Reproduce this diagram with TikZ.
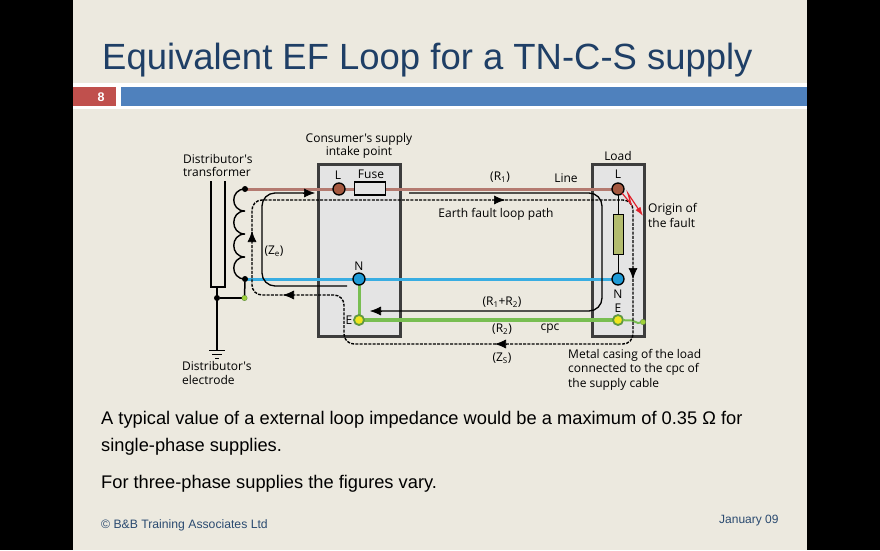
\documentclass[tikz,border=0pt]{standalone}
\usepackage{fontspec}
\setmainfont{Liberation Sans}
\newfontfamily\lab{Open Sans}
\usetikzlibrary{arrows.meta,calc}
\definecolor{bgc}{HTML}{ECE9DF}
\definecolor{titlec}{HTML}{1F3F66}
\definecolor{redbar}{HTML}{C0504D}
\definecolor{bluebar}{HTML}{4F81BD}
\definecolor{casing}{HTML}{3D3D3D}
\definecolor{boxfill}{HTML}{E4E4E4}
\definecolor{linec}{HTML}{B47A70}
\definecolor{neutralc}{HTML}{38ADE2}
\definecolor{earthc}{HTML}{78BE52}
\definecolor{nodeL}{HTML}{A5583F}
\definecolor{nodeN}{HTML}{1E9AD6}
\definecolor{nodeE}{HTML}{F0E61E}
\definecolor{resc}{HTML}{B3BC6E}
\definecolor{footc}{HTML}{2A4A70}
\definecolor{faultc}{HTML}{E0202A}
\tikzset{
 x=1pt,y=-1pt,
 casingbox/.style={draw=casing,line width=3.4pt,fill=boxfill,outer sep=0pt},
 lab/.style={font=\lab\fontsize{12}{14}\selectfont,text=black,inner sep=0pt,align=center},
 labl/.style={lab,align=left,anchor=west},
 term/.style={circle,draw=black,line width=1.3pt,minimum size=12pt,inner sep=0pt,outer sep=0pt},
 termE/.style={circle,draw=earthc!80!black,line width=1.8pt,fill=nodeE,minimum size=10pt,inner sep=0pt,outer sep=0pt},
 jdot/.style={circle,fill=black,minimum size=6pt,inner sep=0pt,outer sep=0pt},
 gdot/.style={circle,fill=earthc!70!yellow,draw=earthc!70!black,line width=.3pt,minimum size=5.5pt,inner sep=0pt,outer sep=0pt},
 wl/.style={line width=3pt},
 bl/.style={line width=1.5pt,black},
 loopdash/.style={line width=1.4pt,black,dash pattern=on 3pt off 1.3pt,rounded corners=10pt},
 loopsolid/.style={line width=1.3pt,black,rounded corners=13pt},
 tip/.style={line width=.6pt,-{Latex[length=11pt,width=9pt]}},
 body/.style={font=\fontsize{18.27}{22}\selectfont,text=black,inner sep=0pt,anchor=base west},
}
\begin{document}
\begin{tikzpicture}
\useasboundingbox (0,0) rectangle (880,550);
\fill[black] (0,0) rectangle (880,550);
\fill[bgc] (73,0) rectangle (807,550);
\fill[white] (73,83) rectangle (807,109);
\fill[redbar] (73,87) rectangle (116,106);
\fill[bluebar] (121,87) rectangle (807,106);
\node[inner sep=0pt,anchor=base west,text=titlec,font=\fontsize{36.45}{42}\selectfont] (title) at (102,69) {Equivalent EF Loop for a TN-C-S supply};
\node[inner sep=0pt,text=white,font=\bfseries\fontsize{12.5}{14}\selectfont] (num) at (101,97) {8};

% boxes
\node[casingbox,minimum width=82pt,minimum height=172pt,anchor=north west,inner sep=0pt] (cbox) at (318.5,164.5) {};
\node[casingbox,minimum width=52pt,minimum height=172pt,anchor=north west,inner sep=0pt] (lbox) at (592.5,164.5) {};

% terminals placed first for names
\coordinate (Ltop) at (245,189);
\coordinate (Ntop) at (245,279);
\coordinate (cL) at (339,189);
\coordinate (cN) at (359,279);
\coordinate (cE) at (359,320);
\coordinate (lL) at (618,189);
\coordinate (lN) at (618,279);
\coordinate (lE) at (618,320);

% conductors
\draw[wl,linec] (Ltop) -- (lL);
\draw[wl,neutralc] (Ntop) -- (lN);
\draw[line width=3.4pt,earthc] (cE) -- (lE);
\draw[wl,earthc] (cN) -- (cE);

% fuse
\node[draw=black,line width=1.2pt,fill=boxfill,minimum width=31pt,minimum height=13pt,inner sep=0pt] (fuse) at (370,188.5) {};
% load
\node[draw=black,line width=1pt,fill=resc,minimum width=10pt,minimum height=40pt,inner sep=0pt] (res) at (618,234) {};
\draw[line width=1pt] (lL) -- (res.north);
\draw[line width=1pt] (res.south) -- (lN);

% terminals
\node[term,fill=nodeL] (tcL) at (cL) {};
\node[term,fill=nodeN] (tcN) at (cN) {};
\node[termE] (tcE) at (cE) {};
\node[term,fill=nodeL] (tlL) at (lL) {};
\node[term,fill=nodeN] (tlN) at (lN) {};
\node[termE] (tlE) at (lE) {};

% load earth link to casing
\node[gdot] (case) at (643,322) {};
\coordinate (k1) at (632,320.5);
\coordinate (k2) at (638,323);
\draw[line width=2pt,earthc] (tlE) -- (k1) -- (k2) -- (case);

% transformer
\coordinate (coreA) at (211,181);
\coordinate (coreB) at (211,287);
\coordinate (coreC) at (225,287);
\coordinate (coreD) at (225,181);
\draw[bl] (coreA) -- (coreB) -- (coreC) -- (coreD);
\coordinate (coil1) at (245,211);
\coordinate (coil2) at (245,234);
\coordinate (coil3) at (245,257);
\draw[line width=1.4pt] (Ltop) .. controls (230,189) and (230,211) .. (coil1)
  .. controls (230,211) and (230,234) .. (coil2)
  .. controls (230,234) and (230,257) .. (coil3)
  .. controls (230,257) and (230,279) .. (Ntop);
\node[jdot] (j1) at (Ltop) {};
\node[jdot] (j2) at (Ntop) {};
\node[jdot] (j3) at (217,298) {};
\coordinate (coreM) at (217,287);
\coordinate (gnd) at (217,350);
\draw[bl] (coreM) -- (gnd);
\coordinate (j4c) at (244.5,298);
\draw[bl] (j3) -- (j4c);
\draw[bl] (j2) -- (j4c);
\node[gdot] (j4) at (j4c) {};
\coordinate (g1a) at (209,350); \coordinate (g1b) at (225,350);
\coordinate (g2a) at (212,354); \coordinate (g2b) at (222,354);
\coordinate (g3a) at (215,358); \coordinate (g3b) at (219,358);
\draw[line width=1pt] (g1a) -- (g1b);
\draw[line width=1pt] (g2a) -- (g2b);
\draw[line width=1pt] (g3a) -- (g3b);

% solid loops
\coordinate (s1) at (315,193);
\coordinate (s2) at (262,193);
\coordinate (s3) at (262,286);
\coordinate (s4) at (347,286);
\coordinate (r1) at (409,193);
\coordinate (r2) at (602,193);
\coordinate (r3) at (602,311);
\coordinate (r4) at (370,311);
\draw[loopsolid] (s4) -- (s3) -- (s2) -- ($(s1)+(-5,0)$);
\draw[tip] ($(s1)+(-12,0)$) -- (s1);
\draw[loopsolid] (r1) -- (r2) -- (r3) -- ($(r4)+(6,0)$);
\draw[tip] ($(r4)+(12,0)$) -- (r4);

% dashed loop
\coordinate (d1) at (252,200);
\coordinate (d2) at (252,295);
\coordinate (d3) at (344,295);
\coordinate (d4) at (344,344);
\coordinate (d5) at (633,344);
\coordinate (d6) at (633,200);
\draw[loopdash] (d6) -- (d5) -- (d4) -- (d3) -- (d2) -- (d1) -- cycle;
\draw[tip] (252,241) -- (252,231);
\draw[tip] (293,295) -- (283,295);
\draw[tip] (494,200) -- (505,200);
\draw[tip] (633,268) -- (633,279);
\draw[tip] (506,344) -- (495,344);

% fault
\coordinate (f0) at (622,193);
\coordinate (f1) at (631,204);
\coordinate (f2) at (628,193.5);
\coordinate (f3) at (643,216);
\draw[line width=1.2pt,faultc,-{Latex[length=9pt,width=6pt]}] (f0) -- (f1) -- (f2) -- (f3);

% labels
\node[labl] (a) at (183,159) {Distributor's};
\node[labl] (b) at (183,172) {transformer};
\node[lab] (c) at (359,139.5) {Consumer's supply};
\node[lab] (d) at (359,152.5) {intake point};
\node[lab] (e) at (338,175) {L};
\node[lab] (f) at (371,174) {Fuse};
\node[lab] (g) at (618,156) {Load};
\node[lab] (h) at (500,177.5) {(R\textsubscript{1})};
\node[lab] (i) at (566,178.5) {Line};
\node[lab] (j) at (618,174.5) {L};
\node[lab] (k) at (496,214) {Earth fault loop path};
\node[labl] (l) at (648,209.5) {Origin of};
\node[labl] (m) at (648,223) {the fault};
\node[lab] (n) at (274,251) {(Z\textsubscript{e})};
\node[lab] (o) at (359,266.5) {N};
\node[lab] (p) at (349,320.5) {E};
\node[lab] (q) at (618,294) {N};
\node[lab] (r) at (618,308) {E};
\node[lab] (s) at (502,302) {(R\textsubscript{1}+R\textsubscript{2})};
\node[lab] (t) at (502,329.5) {(R\textsubscript{2})};
\node[lab] (u) at (550,329) {cpc};
\node[lab] (v) at (502,358) {(Z\textsubscript{S})};
\node[labl] (w) at (568,355) {Metal casing of the load};
\node[labl] (x) at (568,369.5) {connected to the cpc of};
\node[labl] (y) at (568,384) {the supply cable};
\node[labl] (z) at (182,366) {Distributor's};
\node[labl] (aa) at (182,380) {electrode};

% body
\node[body] (t1) at (101,424) {A typical value of a external loop impedance would be a maximum of 0.35 Ω for};
\node[body] (t2) at (101,451) {single-phase supplies.};
\node[body] (t3) at (101,488) {For three-phase supplies the figures vary.};
\node[inner sep=0pt,anchor=base west,text=footc,font=\fontsize{12.2}{14}\selectfont] (f1n) at (101,528) {© B\&B Training Associates Ltd};
\node[inner sep=0pt,anchor=base west,text=footc,font=\fontsize{12}{14}\selectfont] (f2n) at (719,523) {January 09};
\end{tikzpicture}
\end{document}
